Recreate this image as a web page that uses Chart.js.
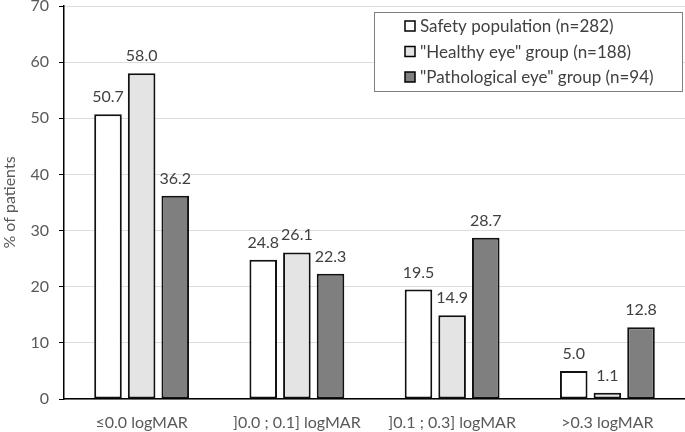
<!DOCTYPE html>
<html>
<head>
<meta charset="utf-8">
<script src="https://cdn.jsdelivr.net/npm/chart.js@4"></script>
<style>
  html, body { margin: 0; padding: 0; background: #fff; }
  #wrap { width: 685px; height: 432px; }
</style>
</head>
<body>
<div id="wrap"><canvas id="acuityChart" width="685" height="432"></canvas></div>
<script>
// data
const categories = ['≤0.0 logMAR', ']0.0 ; 0.1] logMAR', ']0.1 ; 0.3] logMAR', '>0.3 logMAR'];
const seriesNames = ['Safety population (n=282)', '"Healthy eye" group (n=188)', '"Pathological eye" group (n=94)'];
const safetyPop = [50.7, 24.8, 19.5, 5.0];
const healthyEye = [58.0, 26.1, 14.9, 1.1];
const pathoEye = [36.2, 22.3, 28.7, 12.8];
const yTicks = [0, 10, 20, 30, 40, 50, 60, 70];

const FONT = "Lato, 'Open Sans', sans-serif";
const fills = ['#ffffff', '#e4e4e4', '#7f7f7f'];

// values above each bar
const barLabels = {
  id: 'barLabels',
  afterDatasetsDraw(chart) {
    const ctx = chart.ctx;
    ctx.save();
    ctx.font = '16px ' + FONT;
    ctx.fillStyle = '#404040';
    ctx.textAlign = 'center';
    ctx.textBaseline = 'alphabetic';
    chart.data.datasets.forEach(function(ds, i) {
      chart.getDatasetMeta(i).data.forEach(function(bar, j) {
        ctx.fillText(ds.data[j].toFixed(1), bar.x, bar.y - 12);
      });
    });
    ctx.restore();
  }
};

// boxed legend in the top right corner
const boxLegend = {
  id: 'boxLegend',
  afterDraw(chart) {
    const ctx = chart.ctx;
    const x0 = 374, y0 = 12, w = 308, h = 79;
    ctx.save();
    ctx.fillStyle = '#fff';
    ctx.fillRect(x0, y0, w, h);
    ctx.strokeStyle = '#7f7f7f';
    ctx.lineWidth = 1;
    ctx.strokeRect(x0 + 0.5, y0 + 0.5, w, h);
    ctx.font = '17px ' + FONT;
    ctx.textBaseline = 'middle';
    chart.data.datasets.forEach(function(ds, i) {
      const cy = 26 + i * 25.5;
      ctx.fillStyle = ds.backgroundColor;
      ctx.fillRect(405, cy - 5, 10, 10);
      ctx.strokeStyle = '#000';
      ctx.lineWidth = 1.5;
      ctx.strokeRect(405, cy - 5, 10, 10);
      ctx.fillStyle = '#404040';
      ctx.fillText(ds.label, 420, cy + 1);
    });
    ctx.restore();
  }
};

const datasets = [safetyPop, healthyEye, pathoEye].map(function(vals, i) {
  return {
    label: seriesNames[i],
    data: vals,
    backgroundColor: fills[i],
    borderColor: '#111',
    borderWidth: 2,
    borderSkipped: false,
    categoryPercentage: 0.65,
    barPercentage: 0.82
  };
});

new Chart(document.getElementById('acuityChart'), {
  type: 'bar',
  data: { labels: categories, datasets: datasets },
  plugins: [barLabels, boxLegend],
  options: {
    responsive: false,
    animation: false,
    layout: { padding: { top: 6, right: 0, left: 0, bottom: 0 } },
    plugins: { legend: { display: false }, tooltip: { enabled: false } },
    scales: {
      x: {
        grid: { display: false },
        border: { color: '#000', width: 1.5 },
        ticks: { color: '#595959', font: { family: FONT, size: 16 }, padding: 6 },
        afterFit(s) { s.height = 33; s.paddingLeft = 0; s.paddingRight = 0; }
      },
      y: {
        min: 0, max: 70,
        afterBuildTicks(s) { s.ticks = yTicks.map(v => ({ value: v })); },
        grid: { color: '#dcdcdc', lineWidth: 1, drawTicks: true, tickLength: 5, tickColor: '#000' },
        border: { color: '#000', width: 1.5 },
        ticks: { color: '#595959', font: { family: FONT, size: 16 }, padding: 10 },
        title: { display: true, text: '% of patients', color: '#595959', font: { family: FONT, size: 16 }, padding: 0 },
        afterFit(s) { s.width = 64; s.paddingTop = 0; s.paddingBottom = 0; }
      }
    }
  }
});
</script>
</body>
</html>
